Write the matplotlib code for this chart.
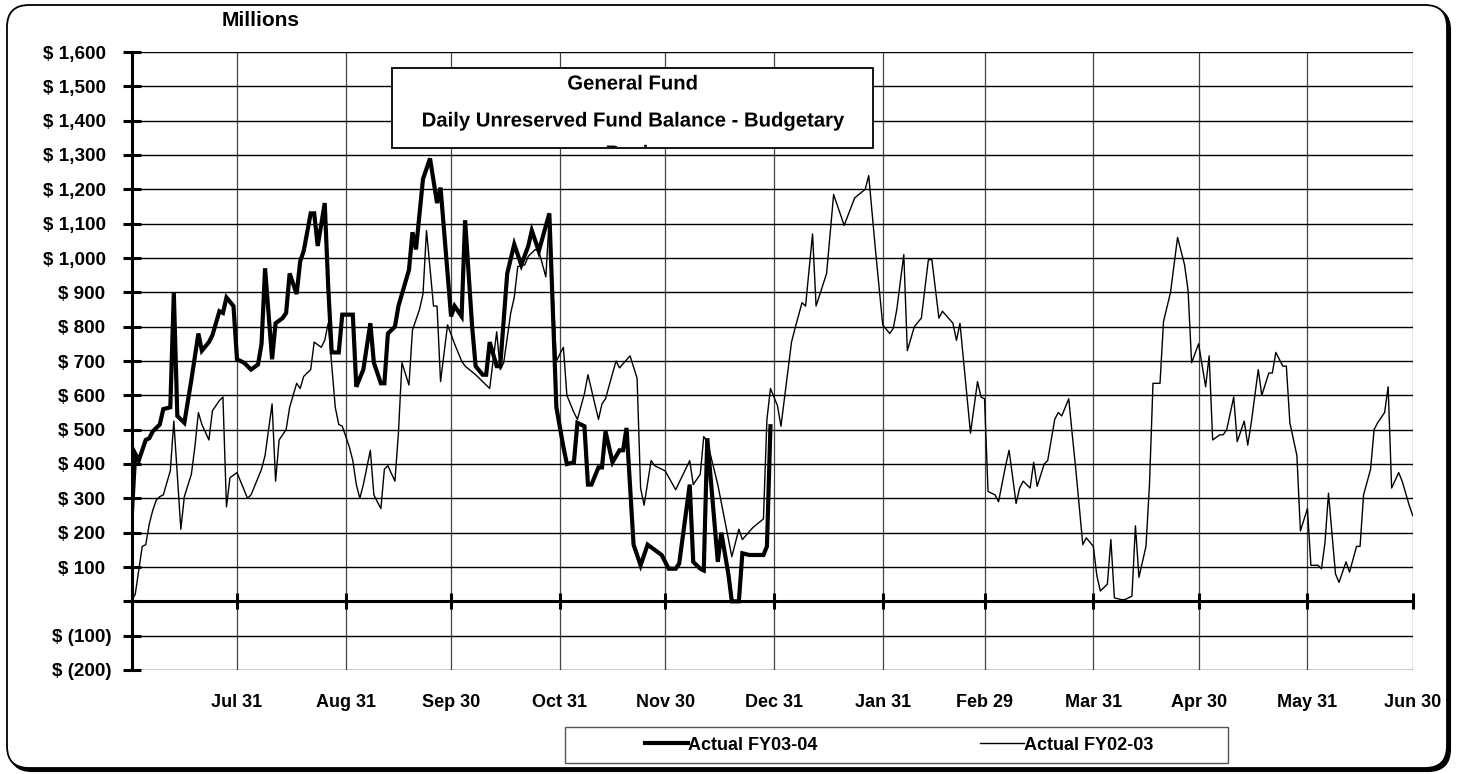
import numpy as np
import pandas as pd
import matplotlib
matplotlib.use('Agg')
import matplotlib.pyplot as plt
import matplotlib.patheffects as pe
from matplotlib import font_manager
from matplotlib.patches import FancyBboxPatch, Rectangle
from matplotlib.transforms import Bbox, TransformedBbox, ScaledTranslation

# days counted from Jul 1, balances in $ millions
fy0304_day = [0, 1, 2, 4, 5, 6, 8, 9, 11, 12, 13, 15, 17, 19, 20, 22, 23, 25, 26, 27,
              29, 30, 32, 34, 36, 37, 38, 40, 41, 43, 44, 45, 47, 48, 49, 51, 52, 53, 55, 56,
              57, 59, 60, 63, 64, 65, 66, 68, 69, 71, 72, 73, 75, 76, 77, 79, 80, 81, 83, 85,
              87, 88, 91, 92, 94, 95, 97, 98, 100, 101, 102, 104, 105, 107, 109, 111, 113, 114, 116, 119,
              121, 123, 124, 126, 127, 129, 130, 131, 133, 134, 135, 137, 139, 140, 141, 143, 145, 147, 149, 151,
              153, 155, 156, 159, 160, 162, 163, 164, 167, 168, 170, 171, 173, 174, 176, 180, 181, 182]
fy0304_val = [245, 430, 410, 470, 475, 495, 515, 560, 565, 900, 540, 520, 645, 780, 730, 755, 775, 845, 840, 885,
              860, 705, 695, 675, 690, 750, 970, 705, 810, 825, 840, 955, 895, 990, 1020, 1130, 1130, 1035, 1160, 915,
              725, 725, 835, 835, 625, 650, 675, 810, 695, 635, 635, 780, 800, 860, 895, 965, 1075, 1025, 1230, 1290,
              1160, 1205, 830, 860, 830, 1110, 800, 685, 660, 660, 755, 685, 685, 955, 1040, 980, 1035, 1080, 1020, 1130,
              565, 450, 400, 405, 520, 510, 340, 340, 390, 390, 495, 405, 440, 440, 505, 165, 105, 165, 150, 135,
              95, 95, 110, 340, 115, 95, 90, 475, 115, 200, 80, 0, 0, 140, 135, 135, 160, 510]

fy0203_day = [0, 1, 2, 3, 4, 5, 6, 7, 8, 9, 11, 12, 14, 15, 17, 18, 19, 20, 22, 23,
              25, 26, 27, 28, 30, 32, 33, 34, 36, 37, 38, 40, 41, 42, 44, 45, 47, 48, 49, 51,
              52, 54, 55, 56, 58, 59, 60, 62, 63, 64, 65, 66, 68, 69, 71, 72, 73, 75, 76, 77,
              79, 80, 82, 83, 84, 86, 87, 88, 90, 92, 94, 95, 98, 102, 104, 105, 106, 108, 109, 110,
              112, 113, 115, 116, 118, 119, 121, 123, 124, 126, 127, 129, 130, 133, 134, 135, 138, 139, 142, 144,
              145, 146, 148, 149, 152, 155, 159, 160, 162, 163, 164, 167, 171, 173, 174, 177, 180, 181, 182, 184,
              185, 188, 189, 191, 192, 194, 195, 198, 200, 203, 206, 209, 210, 212, 214, 216, 217, 218, 220, 221,
              223, 225, 227, 228, 230, 231, 234, 235, 236, 239, 241, 242, 243, 244, 246, 247, 249, 250, 252, 253,
              254, 256, 257, 258, 260, 261, 263, 264, 265, 267, 268, 269, 271, 272, 274, 275, 276, 278, 279, 280,
              282, 283, 285, 286, 287, 289, 290, 291, 293, 294, 296, 297, 298, 300, 301, 302, 304, 306, 307, 308,
              310, 311, 312, 314, 315, 317, 318, 319, 321, 322, 324, 325, 326, 328, 329, 330, 332, 333, 335, 336,
              338, 339, 340, 341, 343, 344, 346, 347, 349, 350, 351, 353, 354, 355, 357, 358, 359, 361, 362, 364,
              365]
fy0203_val = [5, 20, 90, 160, 165, 225, 265, 295, 305, 310, 380, 525, 210, 305, 370, 450, 550, 515, 470, 555,
              585, 595, 275, 360, 375, 325, 300, 310, 360, 385, 425, 575, 350, 470, 500, 565, 635, 620, 655, 675,
              755, 740, 760, 810, 565, 515, 510, 450, 410, 340, 300, 340, 440, 310, 270, 385, 395, 350, 490, 695,
              630, 790, 850, 895, 1080, 860, 860, 640, 805, 750, 700, 685, 660, 620, 785, 675, 695, 840, 885, 975,
              980, 1005, 1025, 1020, 945, 1120, 700, 740, 600, 550, 530, 605, 660, 530, 575, 590, 700, 680, 715, 650,
              330, 280, 410, 395, 380, 325, 410, 340, 370, 480, 465, 340, 130, 210, 180, 215, 240, 530, 620, 570,
              510, 755, 795, 870, 860, 1070, 860, 955, 1185, 1095, 1175, 1200, 1240, 1015, 805, 780, 795, 850, 1010, 730,
              800, 825, 995, 995, 825, 845, 810, 760, 810, 490, 640, 595, 590, 320, 310, 290, 395, 440, 285, 330,
              350, 330, 405, 335, 400, 410, 530, 550, 540, 590, 485, 385, 165, 185, 160, 75, 30, 50, 180, 10,
              5, 5, 15, 220, 70, 160, 340, 635, 635, 815, 900, 980, 1060, 980, 905, 695, 750, 625, 715, 470,
              485, 485, 500, 595, 465, 525, 455, 520, 675, 600, 665, 665, 725, 685, 685, 520, 425, 205, 270, 105,
              105, 95, 170, 315, 80, 55, 115, 85, 160, 160, 310, 385, 500, 520, 550, 625, 330, 375, 350, 280,
              250]

month_ends = ['2003-07-31', '2003-08-31', '2003-09-30', '2003-10-31', '2003-11-30', '2003-12-31',
              '2004-01-31', '2004-02-29', '2004-03-31', '2004-04-30', '2004-05-31', '2004-06-30']
y_ticks = list(range(-200, 1700, 100))


def money(v):
    if v == 0:
        return ''
    if v < 0:
        return '$ ({:,})'.format(-v)
    return '$ {:,}'.format(v)


# pick a narrow font if one is there
names = {f.name for f in font_manager.fontManager.ttflist}
fam = 'Liberation Sans'
k = 1.0
for cand in ['Liberation Sans Narrow', 'Arial Narrow']:
    if cand in names:
        fam = cand
        k = 1.15
        break
plt.rcParams['font.family'] = [fam, 'DejaVu Sans']
plt.rcParams['font.weight'] = 'bold'
plt.rcParams['font.size'] = 13 * k

W, H = 1457, 774
fig = plt.figure(figsize=(W / 100, H / 100), dpi=100)

# outer rounded frame with a small shadow
shadow = FancyBboxPatch((0.10, 0.03), 14.40, 7.63, boxstyle='round,pad=0,rounding_size=0.22',
                        transform=fig.dpi_scale_trans, fc='black', ec='black', lw=1.5, zorder=-3)
frame = FancyBboxPatch((0.07, 0.06), 14.40, 7.63, boxstyle='round,pad=0,rounding_size=0.22',
                       transform=fig.dpi_scale_trans, fc='white', ec='black', lw=1.3, zorder=-2)
fig.add_artist(shadow)
fig.add_artist(frame)

ax = fig.add_axes([131.7 / W, 1 - 670 / H, 1281 / W, 618 / H])
ax.patch.set_alpha(0)

start = pd.Timestamp('2003-07-01')
ends = pd.to_datetime(month_ends)
tick_days = [(d - start).days for d in ends]
tick_labels = [d.strftime('%b %d') for d in ends]

l1, = ax.plot(fy0304_day, fy0304_val, color='black', lw=3.0, solid_joinstyle='miter', zorder=4)
l2, = ax.plot(fy0203_day, fy0203_val, color='black', lw=1.0, zorder=3)

ax.set_xlim(0, 365)
ax.set_ylim(-200, 1600)
ax.set_yticks(y_ticks)
ax.set_yticklabels([money(v) for v in y_ticks], fontsize=13.6 * k)
ax.set_xticks(tick_days)
ax.yaxis.grid(True, color='black', lw=1.0)
ax.xaxis.grid(True, color='#444444', lw=0.9)
ax.set_axisbelow(True)

for s in ['top', 'right']:
    ax.spines[s].set_visible(False)
ax.spines['left'].set_linewidth(2.2)
ax.spines['bottom'].set_position(('data', 0))
ax.spines['bottom'].set_linewidth(2.2)
ax.spines['bottom'].set_zorder(2.5)
ax.tick_params(axis='y', direction='inout', length=13, width=2.2, pad=8)
ax.tick_params(axis='x', direction='inout', length=11, width=2.2, labelbottom=False)

# accounting format: positive amounts stop short of the closing bracket
shift = ScaledTranslation(-6 / 100, 0, fig.dpi_scale_trans)
for v, lab in zip(y_ticks, ax.get_yticklabels()):
    if v > 0:
        lab.set_transform(lab.get_transform() + shift)

# month labels sit below the plot area
sec = ax.secondary_xaxis(0)
sec.set_xticks(tick_days)
sec.set_xticklabels(tick_labels)
sec.spines['bottom'].set_visible(False)
sec.tick_params(length=0, pad=17)

fig.text(261 / W, 1 - 21 / H, 'Millions', ha='center', va='center', fontsize=15 * k)

# title box, third line is cut off by the box
bx0, bx1, by0, by1 = 392 / W, 873 / W, 1 - 148 / H, 1 - 68 / H
fig.add_artist(Rectangle((bx0, by0), bx1 - bx0, by1 - by0, transform=fig.transFigure,
                         fc='white', ec='black', lw=1.3, zorder=5))
clip = TransformedBbox(Bbox([[bx0, by0 + 1.5 / H], [bx1, by1]]), fig.transFigure)
cx = (bx0 + bx1) / 2
for txt, ypx in [('General Fund', 84), ('Daily Unreserved Fund Balance - Budgetary', 121), ('Basis', 154)]:
    t = fig.text(cx, 1 - ypx / H, txt, ha='center', va='center', zorder=6, fontsize=14.6 * k,
                 path_effects=[pe.Normal()])
    t.set_clip_box(clip)
    t.set_clip_on(True)

# legend
fig.add_artist(Rectangle((565 / W, 1 - 763 / H), 663 / W, 36 / H, transform=fig.transFigure,
                         fc='white', ec='#555555', lw=1.0, zorder=5))
leg = fig.legend([l1, l2], ['Actual FY03-04', 'Actual FY02-03'], loc='center left',
                 bbox_to_anchor=(645 / W, 1 - 745 / H), bbox_transform=fig.transFigure,
                 ncol=2, frameon=False, borderpad=0, borderaxespad=0,
                 handlelength=2.4, handletextpad=0.0, columnspacing=9.0)
leg.set_zorder(6)

fig.savefig('out.png', dpi=100)
